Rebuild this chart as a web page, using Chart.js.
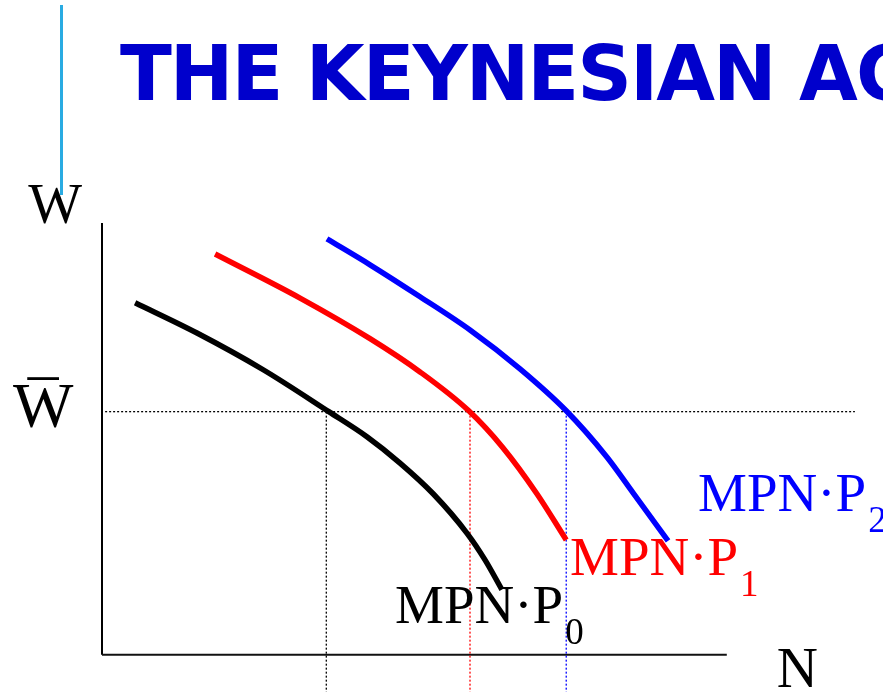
<!DOCTYPE html>
<html>
<head>
<meta charset="utf-8">
<script src="https://cdn.jsdelivr.net/npm/chart.js@4/dist/chart.umd.min.js"></script>
<style>
  html, body { margin: 0; padding: 0; background: #fff; overflow: hidden; width: 883px; height: 692px; }
  #wrap { position: relative; width: 883px; height: 692px; }
  #title { position: absolute; left: 120px; top: 36px; margin: 0; font-family: "DejaVu Sans", Verdana, sans-serif; font-weight: bold; font-size: 76px; line-height: 76px; letter-spacing: -2px; color: #0000CC; white-space: nowrap; }
  #accent { position: absolute; left: 60px; top: 5px; width: 3px; height: 190px; background: #29ABE2; z-index: 5; }
  canvas { position: absolute; left: 0; top: 0; }
</style>
</head>
<body>
<div id="wrap">
  <div id="title">THE KEYNESIAN AGGREGATE SUPPLY CURVE</div>
  <canvas id="c" width="883" height="692"></canvas>
  <div id="accent"></div>
</div>
<script>
// ---- data (N on x, W on y) ----
const curveP0 = [[0.53,8.15],[1.52,7.45],[2.58,6.60],[3.63,5.63],[4.24,5.05],[4.77,4.44],[5.30,3.73],[5.84,2.82],[6.13,2.20],[6.40,1.51]];
const curveP1 = [[1.81,9.28],[3.17,8.26],[4.29,7.32],[5.09,6.55],[5.87,5.65],[6.42,4.79],[6.96,3.73],[7.43,2.66]];
const curveP2 = [[3.60,9.63],[4.29,9.03],[5.09,8.29],[5.89,7.52],[6.69,6.62],[7.43,5.65],[8.08,4.58],[8.50,3.75],[9.06,2.64]];
const wBar = 5.63;
const nLevels = [3.59, 5.89, 7.43];
const axisN = 10, axisW = 10;
const guideEndN = 12.05;
const curveNames = ["MPN·P0", "MPN·P1", "MPN·P2"];
const curveColors = ["#000000", "#FF0000", "#0000FF"];
const labelMain = "MPN·P";
const labelSubs = ["0", "1", "2"];
const labelPos = [[4.69, 0.74], [7.49, 1.85], [9.54, 3.33]];
const axisLabels = [
  { text: "W", pos: [-1.18, 10.0], size: 57, bar: false },
  { text: "W", pos: [-1.424, 5.28], size: 64, bar: true },
  { text: "N", pos: [10.8, -0.74], size: 57, bar: false }
];

const toXY = arr => arr.map(p => ({ x: p[0], y: p[1] }));
const curves = [curveP0, curveP1, curveP2];

const datasets = [];
curves.forEach((c, i) => datasets.push({
  label: curveNames[i], data: toXY(c), borderColor: curveColors[i], borderWidth: 5.5,
  showLine: true, pointRadius: 0, cubicInterpolationMode: "monotone", clip: false, fill: false
}));
nLevels.forEach((n, i) => datasets.push({
  label: "guide" + i, data: [{ x: n, y: wBar }, { x: n, y: -0.86 }], borderColor: curveColors[i],
  borderWidth: 1.3, borderDash: [2, 2], showLine: true, pointRadius: 0, clip: false
}));
datasets.push({ label: "wbar", data: [{ x: 0.05, y: wBar }, { x: guideEndN, y: wBar }], borderColor: "#000",
  borderWidth: 1.3, borderDash: [2, 2], showLine: true, pointRadius: 0, clip: false });
datasets.push({ label: "xaxis", data: [{ x: 0, y: 0 }, { x: axisN, y: 0 }], borderColor: "#111",
  borderWidth: 2, showLine: true, pointRadius: 0, clip: false });
datasets.push({ label: "yaxis", data: [{ x: 0, y: 0 }, { x: 0, y: axisW }], borderColor: "#000",
  borderWidth: 2, showLine: true, pointRadius: 0, clip: false });

const SERIF = '"Liberation Serif", "Times New Roman", serif';
const textPlugin = {
  id: "texts",
  afterDatasetsDraw(chart) {
    const ctx = chart.ctx, xs = chart.scales.x, ys = chart.scales.y;
    ctx.save();
    ctx.textBaseline = "alphabetic";
    ctx.textAlign = "left";
    axisLabels.forEach(l => {
      const px = xs.getPixelForValue(l.pos[0]), py = ys.getPixelForValue(l.pos[1]);
      ctx.font = l.size + "px " + SERIF;
      ctx.fillStyle = "#000";
      ctx.fillText(l.text, px, py);
      if (l.bar) {
        const m = ctx.measureText(l.text);
        const capTop = py - m.actualBoundingBoxAscent;
        const cx = px + m.width / 2;
        let s = l.size;
        ctx.font = s + "px " + SERIF;
        let mm = ctx.measureText("\u00AF");
        const gw = mm.actualBoundingBoxRight + mm.actualBoundingBoxLeft;
        if (gw > 0) s = s * (m.width * 0.54) / gw;
        ctx.font = s + "px " + SERIF;
        mm = ctx.measureText("\u00AF");
        const gLeft = mm.actualBoundingBoxLeft, gRight = mm.actualBoundingBoxRight;
        const gx = cx - (gRight - gLeft) / 2;
        const gy = capTop - 8 + mm.actualBoundingBoxAscent;
        ctx.fillText("\u00AF", gx, gy);
      }
    });
    labelPos.forEach((p, i) => {
      const px = xs.getPixelForValue(p[0]), py = ys.getPixelForValue(p[1]);
      ctx.fillStyle = curveColors[i];
      ctx.font = "55px " + SERIF;
      ctx.fillText(labelMain, px, py);
      const w = ctx.measureText(labelMain).width;
      ctx.font = "37px " + SERIF;
      ctx.fillText(labelSubs[i], px + w + 2, py + 21);
    });
    ctx.restore();
  }
};

new Chart(document.getElementById("c"), {
  type: "scatter",
  data: { datasets },
  options: {
    responsive: false, animation: false, devicePixelRatio: 1,
    layout: { padding: { left: 102, right: 0, top: 0, bottom: 0 } },
    plugins: { legend: { display: false }, tooltip: { enabled: false }, title: { display: false } },
    scales: {
      x: { type: "linear", display: false, min: 0, max: 12.5 },
      y: { type: "linear", display: false, min: -0.86, max: 15.16 }
    }
  },
  plugins: [textPlugin]
});
</script>
</body>
</html>
